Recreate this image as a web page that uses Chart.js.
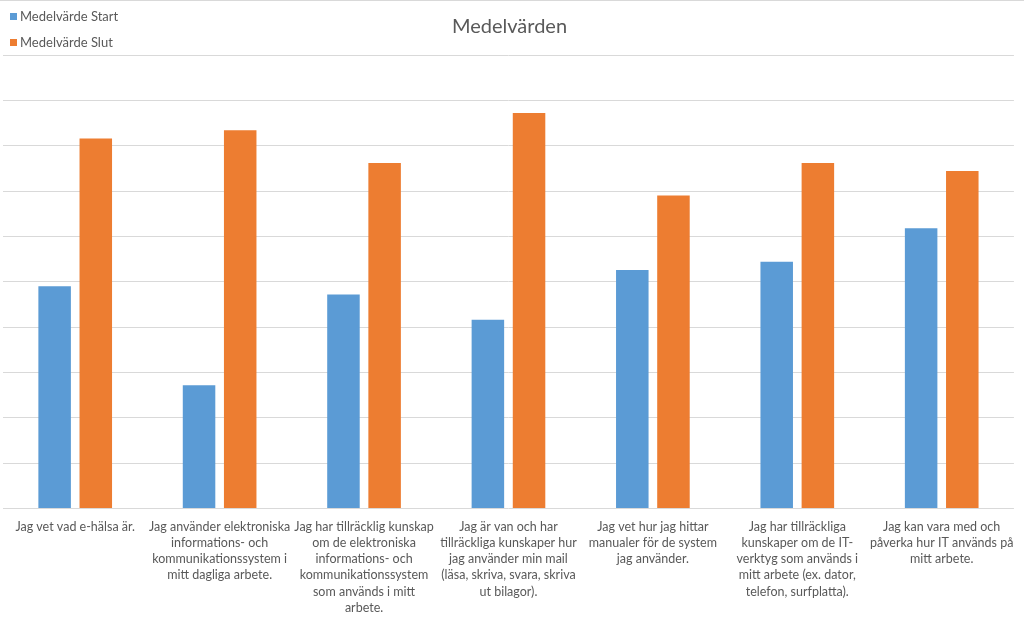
<!DOCTYPE html>
<html lang="sv">
<head>
<meta charset="utf-8">
<title>Medelvärden</title>
<script src="https://cdn.jsdelivr.net/npm/chart.js@4.4.1/dist/chart.umd.min.js"></script>
<style>
    html, body { margin: 0; padding: 0; background: #fff; }
    #wrap { position: relative; width: 1024px; height: 623px; overflow: hidden; }
    #topLine { position: absolute; left: 0; top: 0; width: 1024px; height: 1px; background: #d9d9d9; }
    #legend { position: absolute; left: 10px; top: 8px; font-family: Lato, "Open Sans", sans-serif; font-size: 13px; color: #595959; }
    #legend div { height: 26px; line-height: 16px; }
    #legend span.box { display: inline-block; width: 7px; height: 7px; margin-right: 3px; vertical-align: 1px; }
</style>
</head>
<body>
<div id="wrap">
    <canvas id="chart"></canvas>
    <div id="topLine"></div>
    <div id="legend"></div>
</div>
<script>
const categories = [
    ["Jag vet vad e-hälsa är."],
    ["Jag använder elektroniska", "informations- och", "kommunikationssystem i", "mitt dagliga arbete."],
    ["Jag har tillräcklig kunskap", "om de elektroniska", "informations- och", "kommunikationssystem", "som används i mitt", "arbete."],
    ["Jag är van och har", "tillräckliga kunskaper hur", "jag använder min mail", "(läsa, skriva, svara, skriva", "ut bilagor)."],
    ["Jag vet hur jag hittar", "manualer för de system", "jag använder."],
    ["Jag har tillräckliga", "kunskaper om de IT-", "verktyg som används i", "mitt arbete (ex. dator,", "telefon, surfplatta)."],
    ["Jag kan vara med och", "påverka hur IT används på", "mitt arbete."]
];
const startValues = [2.45, 1.36, 2.36, 2.08, 2.63, 2.72, 3.09];
const slutValues = [4.08, 4.17, 3.81, 4.36, 3.45, 3.81, 3.72];

const blue = '#5b9bd5';
const orange = '#ed7d31';
const textColor = '#595959';
const gridColor = '#d9d9d9';

const ctx = document.getElementById('chart');
const data = {
    labels: categories,
    datasets: [{
        label: 'Medelvärde Start',
        data: startValues,
        backgroundColor: blue
    }, {
        label: 'Medelvärde Slut',
        data: slutValues,
        backgroundColor: orange
    }]
};

let chart = new Chart(ctx, {
    type: 'bar',
    data: data,
    options: {
        responsive: true,
        maintainAspectRatio: false,
        animation: false,
        layout: {
            padding: {left: 3, right: 8, top: 0, bottom: -3}
        },
        datasets: {
            bar: {
                categoryPercentage: 0.57,
                barPercentage: 0.79
            }
        },
        plugins: {
            legend: {display: false},
            tooltip: {enabled: false},
            title: {
                display: true,
                text: 'Medelvärden',
                color: textColor,
                font: {family: 'Lato', size: 20, weight: 'normal'},
                padding: {top: 15, bottom: 16}
            }
        },
        scales: {
            x: {
                grid: {display: false, drawTicks: false},
                border: {display: false},
                ticks: {
                    color: textColor,
                    font: {family: 'Lato', size: 12.5, lineHeight: 1.3},
                    maxRotation: 0,
                    autoSkip: false,
                    padding: 10
                }
            },
            y: {
                min: 0,
                max: 5,
                grid: {color: gridColor, lineWidth: 1, drawTicks: false},
                border: {display: false},
                ticks: {display: false, stepSize: 0.5}
            }
        }
    }
});

// legend stacked top-left, same as the original
const legend = document.getElementById('legend');
chart.data.datasets.forEach(function(ds){
    const row = document.createElement('div');
    row.innerHTML = '<span class="box" style="background:' + ds.backgroundColor + '"></span>' + ds.label;
    legend.appendChild(row);
});
</script>
</body>
</html>
